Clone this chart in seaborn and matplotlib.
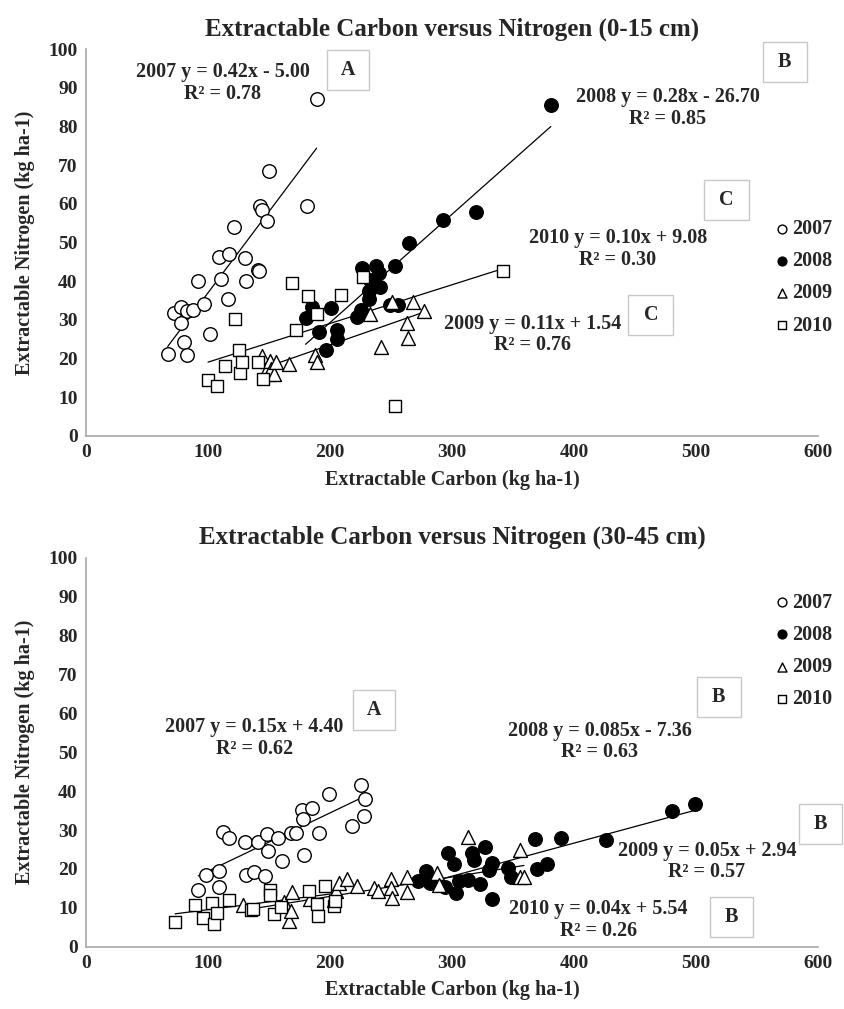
import numpy as np
import pandas as pd
import matplotlib
matplotlib.use("Agg")
import matplotlib.pyplot as plt
import seaborn as sns

sns.set_style("white")
plt.rcParams['font.family'] = ['Liberation Serif', 'DejaVu Serif']
plt.rcParams['font.weight'] = 'bold'

years = ['2007', '2008', '2009', '2010']

# 0-15 cm
top_2007_c = [67, 72, 78, 83, 88, 78, 80, 83, 92, 97, 102, 109, 111, 117, 116, 121, 130, 131,
              141, 142, 143, 144, 148, 150, 181, 189]
top_2007_n = [21.3, 31.7, 33.3, 32.2, 32.5, 29.2, 24.3, 21.0, 40.0, 34.1, 26.4, 46.3, 40.5, 47.0,
              35.5, 54.0, 46.0, 40.0, 42.9, 42.7, 59.4, 58.5, 55.6, 68.5, 59.4, 87.0]
top_2008_c = [180, 185, 191, 197, 201, 206, 206, 222, 225, 226, 232, 232, 233, 238, 240, 241,
              249, 253, 256, 265, 293, 320, 381]
top_2008_n = [30.6, 33.3, 26.8, 22.2, 33.1, 27.5, 25.0, 30.8, 32.5, 43.5, 35.5, 37.5, 40.3, 43.9,
              42.0, 38.5, 33.8, 44.0, 33.8, 50.0, 55.7, 58.0, 85.5]
top_2009_c = [144, 149, 150, 151, 152, 154, 156, 166, 188, 189, 233, 242, 251, 263, 264, 268, 277]
top_2009_n = [20.8, 17.8, 16.1, 19.3, 17.2, 16.1, 19.2, 18.7, 21.0, 19.0, 31.4, 23.0, 34.6, 29.2,
              25.3, 34.7, 32.2]
top_2010_c = [100, 107, 114, 122, 125, 126, 128, 141, 145, 169, 172, 182, 189, 209, 227, 253, 342]
top_2010_n = [14.5, 13.0, 18.0, 30.3, 22.3, 16.2, 19.0, 19.0, 14.8, 39.5, 27.3, 36.2, 31.6, 36.5,
              41.0, 7.7, 42.7]
top_slope = [0.42, 0.28, 0.11, 0.10]
top_icept = [-5.00, -26.70, 1.54, 9.08]
top_eq = ['2007 y = 0.42x - 5.00\nR² = 0.78', '2008 y = 0.28x - 26.70\nR² = 0.85',
          '2009 y = 0.11x + 1.54\nR² = 0.76', '2010 y = 0.10x + 9.08\nR² = 0.30']
top_letters = ['A', 'B', 'C', 'C']

# 30-45 cm
bot_2007_c = [92, 98, 109, 109, 112, 117, 130, 131, 138, 141, 147, 148, 149, 157, 161, 168, 172,
              177, 178, 179, 185, 191, 199, 218, 225, 229, 228]
bot_2007_n = [14.5, 18.5, 19.4, 15.3, 29.4, 27.9, 27.0, 18.5, 19.1, 27.0, 18.3, 29.0, 24.5, 28.0,
              22.0, 29.2, 29.2, 35.1, 32.8, 23.5, 35.7, 29.3, 39.2, 31.0, 41.7, 37.9, 33.5]
bot_2008_c = [272, 279, 282, 294, 297, 302, 303, 306, 313, 316, 318, 323, 327, 330, 333, 333, 346,
              348, 368, 370, 378, 389, 426, 480, 499]
bot_2008_n = [17.0, 19.5, 16.3, 15.3, 24.2, 21.2, 13.7, 16.9, 17.1, 24.2, 22.2, 16.1, 25.7, 19.6,
              21.4, 12.3, 20.2, 17.8, 27.7, 19.9, 21.3, 28.0, 27.5, 34.8, 36.6]
bot_2009_c = [129, 162, 166, 168, 169, 184, 203, 205, 207, 214, 222, 236, 239, 250, 250, 251, 263,
              263, 288, 289, 313, 356, 356, 359]
bot_2009_n = [10.7, 11.5, 6.6, 9.2, 14.1, 12.2, 12.0, 14.2, 16.5, 17.3, 15.7, 15.0, 14.4, 17.5,
              15.0, 12.4, 17.8, 14.1, 19.0, 15.8, 28.2, 24.8, 18.0, 18.0]
bot_2010_c = [73, 89, 96, 103, 105, 107, 117, 135, 137, 151, 151, 154, 160, 183, 189, 190, 196,
              203, 204]
bot_2010_n = [6.3, 10.8, 7.5, 11.2, 5.9, 8.6, 12.0, 9.5, 9.8, 14.6, 13.2, 8.4, 10.3, 14.2, 11.0,
              7.9, 15.6, 10.6, 11.8]
bot_slope = [0.15, 0.085, 0.05, 0.04]
bot_icept = [4.40, -7.36, 2.94, 5.54]
bot_eq = ['2007 y = 0.15x + 4.40\nR² = 0.62', '2008 y = 0.085x - 7.36\nR² = 0.63',
          '2009 y = 0.05x + 2.94\nR² = 0.57', '2010 y = 0.04x + 5.54\nR² = 0.26']
bot_letters = ['A', 'B', 'B', 'B']

# layout (data coordinates)
top_eq_pos = [(112, 91.2), (477, 84.8), (366, 26.2), (436, 48.3)]
top_box_pos = [(215, 94.5), (573, 96.6), (525, 60.9), (463, 31.2)]
bot_eq_pos = [(138, 53.7), (421, 52.7), (509, 21.9), (420, 6.9)]
bot_box_pos = [(236, 60.8), (519, 64.2), (602, 31.6), (529, 7.6)]

styles = {'2007': dict(marker='o', color='white', s=95),
          '2008': dict(marker='o', color='black', s=95),
          '2009': dict(marker='^', color='white', s=100),
          '2010': dict(marker='s', color='white', s=80)}


def make_df(cs, ns):
    rows = []
    for yr, c, n in zip(years, cs, ns):
        rows.append(pd.DataFrame({'year': yr, 'carbon': c, 'nitrogen': n}))
    return pd.concat(rows, ignore_index=True)


top_df = make_df([top_2007_c, top_2008_c, top_2009_c, top_2010_c],
                 [top_2007_n, top_2008_n, top_2009_n, top_2010_n])
bot_df = make_df([bot_2007_c, bot_2008_c, bot_2009_c, bot_2010_c],
                 [bot_2007_n, bot_2008_n, bot_2009_n, bot_2010_n])

fig = plt.figure(figsize=(8.44, 10.09), dpi=100)
ax1 = fig.add_axes([0.1019, 0.5679, 0.8673, 0.3835])
ax2 = fig.add_axes([0.1019, 0.0617, 0.8673, 0.3856])


def draw(ax, df, slopes, icepts, eqs, eq_pos, letters, box_pos, title, leg_anchor):
    for i, yr in enumerate(years):
        d = df[df['year'] == yr]
        st = styles[yr]
        sns.scatterplot(data=d, x='carbon', y='nitrogen', ax=ax, marker=st['marker'],
                        color=st['color'], edgecolor='black', linewidth=1.0, s=st['s'],
                        label=yr, zorder=3)
        xs = np.array([d['carbon'].min(), d['carbon'].max()])
        ax.plot(xs, slopes[i] * xs + icepts[i], color='black', lw=0.9, zorder=2)
        ax.text(eq_pos[i][0], eq_pos[i][1], eqs[i], ha='center', va='center',
                fontsize=14.5, fontweight='bold', linespacing=1.1, zorder=4)
    for let, (bx, by) in zip(letters, box_pos):
        ax.text(bx, by, ' ' + let + ' ', ha='center', va='center', fontsize=14.5,
                fontweight='bold', clip_on=False, zorder=4,
                bbox=dict(boxstyle='square,pad=0.5', fc='white', ec='#c8c8c8', lw=1))
    ax.set_xlim(0, 600)
    ax.set_ylim(0, 100)
    ax.set_xticks(range(0, 601, 100))
    ax.set_yticks(range(0, 101, 10))
    for sp in ['top', 'right']:
        ax.spines[sp].set_visible(False)
    for sp in ['left', 'bottom']:
        ax.spines[sp].set_color('#a8a8a8')
        ax.spines[sp].set_linewidth(1.2)
    ax.tick_params(axis='both', which='major', direction='out', length=4, width=1,
                   color='#a8a8a8', labelsize=14, pad=2)
    for lab in ax.get_xticklabels() + ax.get_yticklabels():
        lab.set_fontweight('bold')
    ax.set_xlabel('Extractable Carbon (kg ha-1)', fontsize=14.5, fontweight='bold', labelpad=6)
    ax.set_ylabel('Extractable Nitrogen (kg ha-1)', fontsize=14.5, fontweight='bold', labelpad=10)
    ax.set_title(title, fontsize=18, fontweight='bold', pad=10)
    ax.legend(loc='upper left', bbox_to_anchor=leg_anchor, frameon=False,
              markerscale=0.65, handlelength=0.7, handletextpad=0.15, labelspacing=0.6,
              borderpad=0, borderaxespad=0, prop={'size': 14.5, 'weight': 'bold'})


draw(ax1, top_df, top_slope, top_icept, top_eq, top_eq_pos, top_letters, top_box_pos,
     'Extractable Carbon versus Nitrogen (0-15 cm)', (0.941, 0.56))
draw(ax2, bot_df, bot_slope, bot_icept, bot_eq, bot_eq_pos, bot_letters, bot_box_pos,
     'Extractable Carbon versus Nitrogen (30-45 cm)', (0.941, 0.91))

fig.savefig('out.png', dpi=100)
